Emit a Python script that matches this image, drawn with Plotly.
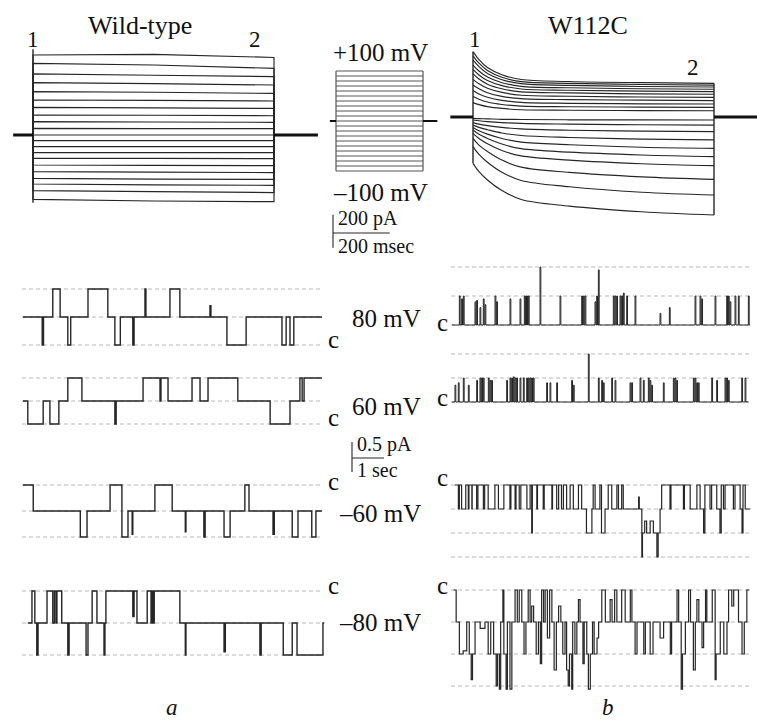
import plotly.graph_objects as go

# ---------------------------------------------------------------- data
sweep_mV = [100, 90, 80, 70, 60, 50, 40, 30, 20, 10, 0,
            -10, -20, -30, -40, -50, -60, -70, -80, -90, -100]
pulse_ms = 850
wt_hold_ms = [-70, 1005]
mut_hold_ms = [-80, 1005]

# wild-type whole-cell currents (pA) at start / middle / end of the pulse
wt_time_ms = [0, 425, 850]
wt_current_pA = [
    [485, 489, 470], [434, 424, 404], [370, 362, 354], [317, 311, 303],
    [263, 259, 252], [212, 210, 206], [167, 164, 161], [121, 120, 117],
    [81, 79, 77], [40, 39, 39], [0, 0, 0], [-34, -34, -34],
    [-70, -70, -70], [-107, -107, -107], [-142, -142, -143],
    [-182, -184, -186], [-222, -225, -228], [-263, -267, -269],
    [-297, -302, -305], [-337, -343, -349], [-390, -400, -404]]

# W112C whole-cell currents (pA)
mut_time_ms = [0, 21, 51, 102, 170, 340, 595, 850]
mut_current_pA = [
    [396, 348, 300, 256, 227, 215, 208, 204],
    [370, 326, 282, 241, 214, 204, 197, 193],
    [346, 305, 264, 226, 202, 192, 185, 182],
    [315, 279, 242, 208, 186, 177, 171, 168],
    [289, 255, 221, 190, 170, 162, 157, 154],
    [261, 230, 199, 171, 152, 146, 140, 138],
    [228, 201, 174, 149, 132, 126, 121, 119],
    [194, 171, 147, 125, 111, 105, 102, 99],
    [160, 139, 120, 101, 89, 83, 80, 79],
    [124, 108, 91, 76, 66, 62, 60, 58],
    [87, 75, 63, 52, 44, 41, 39, 38],
    [-8, -10, -11, -14, -15, -17, -17, -18],
    [-18, -23, -28, -34, -39, -43, -47, -49],
    [-34, -43, -52, -63, -72, -80, -86, -89],
    [-49, -63, -77, -97, -112, -124, -134, -139],
    [-63, -83, -104, -130, -152, -168, -183, -190],
    [-79, -105, -130, -164, -192, -213, -230, -240],
    [-99, -130, -162, -203, -236, -261, -283, -295],
    [-130, -170, -209, -261, -304, -336, -363, -378],
    [-180, -227, -274, -335, -385, -423, -456, -473],
    [-281, -331, -382, -446, -500, -540, -574, -594]]

# single-channel recordings: dwell start times (s) and number of open channels
wt80_t = [0, 0.60, 0.64, 0.93, 1.16, 1.40, 1.49, 2.03, 2.65, 2.87, 3.04, 3.43, 3.47,
          3.81, 3.84, 4.59, 4.90, 5.84, 5.87, 6.37, 6.97, 8.09, 8.22, 8.34, 8.46, 9.34]
wt80_n = [1, 0, 1, 2, 1, 0, 1, 2, 1, 0, 1, 0, 1,
          2, 1, 2, 1, 1.4, 1, 0, 1, 0, 1, 0, 1, 1]
wt60_t = [0, 0.15, 0.63, 0.84, 1.12, 1.40, 1.84, 2.87, 2.91, 3.75, 4.28, 4.31,
          4.53, 5.28, 5.53, 5.78, 6.71, 7.72, 8.34, 8.65, 8.72, 8.78, 9.34]
wt60_n = [1, 0, 1, 0, 1, 2, 1, 0, 1, 2, 1, 2,
          1, 2, 1, 2, 1, 0, 1, 2, 1, 2, 2]
wtm60_t = [0, 0.32, 1.79, 2.00, 2.72, 3.09, 3.28, 3.41, 3.43, 4.12, 4.66, 5.07, 5.09,
           5.65, 5.69, 6.28, 6.47, 6.93, 7.06, 7.81, 7.85, 8.41, 8.59, 9.02, 9.15, 9.34]
wtm60_n = [0, 1, 2, 1, 0, 2, 1, 1.9, 1, 0, 1, 1.8, 1,
           2, 1, 2, 1, 0, 1, 1.9, 1, 2, 1, 2, 1, 1]
wtm80_t = [0.15, 0.28, 0.37, 0.43, 0.47, 0.75, 0.93, 0.98, 1.03, 1.06, 1.21, 1.40, 1.44,
           1.97, 2.03, 2.16, 2.31, 2.53, 2.56, 2.59, 3.43, 3.47, 3.56, 3.88, 4.00, 4.03,
           4.06, 4.10, 4.90, 5.07, 5.09, 6.28, 6.32, 7.40, 7.44, 8.13, 8.41, 8.56, 9.37, 9.41]
wtm80_n = [1, 0, 1, 2, 1, 0, 1, 0, 1, 0, 1, 2, 1,
           2, 1, 0, 1, 2, 1, 0, 0.8, 0, 1, 0, 1, 0,
           1, 0, 1, 2, 1, 1.9, 1, 2, 1, 2, 1, 2, 1, 1]

# W112C at +80 / +60 mV: brief openings from the closed level
mut80_open_s = [0.229, 0.302, 0.354, 0.718, 0.771, 0.874, 0.978, 1.031, 1.344, 1.395,
                1.812, 2.125, 2.260, 2.301, 2.333, 2.385, 2.749, 3.374, 4.051, 4.103,
                4.155, 4.468, 4.519, 4.572, 5.040, 5.093, 5.144, 5.249, 5.300, 5.353,
                5.457, 5.717, 6.498, 6.790, 7.592, 7.748, 7.800, 8.217, 8.581, 8.634,
                8.685, 8.841, 8.945, 9.258]
mut80_open_n = [1, 0.9, 1, 0.8, 0.85, 0.6, 0.9, 0.7, 1, 0.8,
                0.9, 0.9, 1, 1, 1, 1, 2, 1, 1, 1,
                1, 0.8, 1, 1.9, 1, 1, 1, 1, 1, 1.1,
                1, 1, 0.4, 0.6, 1, 1, 0.9, 1, 1, 1,
                0.8, 1, 1, 1]
mut60_open_s = [0.093, 0.197, 0.354, 0.510, 0.771, 0.874, 0.927, 0.978, 1.135, 1.187,
                1.239, 1.708, 1.812, 1.864, 1.916, 1.968, 2.020, 2.125, 2.229, 2.333,
                2.385, 2.437, 2.489, 2.540, 2.957, 3.061, 3.270, 3.738, 3.791, 4.259,
                4.572, 4.676, 4.728, 4.989, 5.093, 5.561, 5.613, 5.874, 5.978, 6.134,
                6.185, 6.238, 6.602, 6.915, 6.966, 7.019, 7.540, 7.592, 7.644, 7.696,
                8.113, 8.268, 8.529, 8.581, 8.634, 9.050, 9.154]
mut60_open_n = [0.7, 0.8, 1, 0.7, 0.9, 1, 1, 1, 1, 0.9,
                0.9, 0.9, 1, 1, 1.05, 1, 1, 1, 1, 1,
                1, 1, 1, 1, 0.8, 0.8, 0.8, 0.9, 0.7, 2,
                1, 0.9, 0.8, 1, 0.9, 0.8, 0.8, 1, 0.9, 1,
                0.9, 0.7, 0.8, 1, 1, 0.9, 1, 1, 0.8, 0.8,
                1, 0.9, 1, 1, 0.9, 1, 1]
mut_rec_end_s = [9.31, 9.26]

# W112C at -60 / -80 mV: dwell start times (s) and open-channel level
mutm60_t = [0.09, 0.20, 0.23, 0.30, 0.43, 0.51, 0.53, 0.62, 0.63, 0.77,
            0.81, 0.98, 1.02, 1.13, 1.34, 1.45, 1.62, 1.81, 1.84, 1.97,
            2.00, 2.10, 2.15, 2.34, 2.44, 2.49, 2.51, 2.65, 2.67, 2.85,
            2.88, 3.12, 3.14, 3.27, 3.33, 3.42, 3.48, 3.58, 3.69, 3.79,
            3.95, 4.05, 4.20, 4.37, 4.41, 4.47, 4.62, 4.67, 4.78, 4.88,
            4.99, 5.15, 5.20, 5.30, 5.35, 5.83, 5.85, 5.93, 5.95, 6.02,
            6.08, 6.19, 6.29, 6.40, 6.44, 6.50, 6.55, 6.81, 6.84, 7.23,
            7.26, 7.44, 7.65, 7.75, 7.86, 7.90, 8.06, 8.11, 8.27, 8.37,
            8.41, 8.48, 8.53, 8.79, 8.84, 9.00, 9.06, 9.09, 9.16, 9.32]
mutm60_n = [0, 1, 0, 1, 0, 1, 0, 1, 0, 1,
            0, 1, 0, 1, 0, 1, 0, 1, 0, 1,
            0, 1, 0, 1, 0, 2, 0, 1, 0, 1,
            0, 1, 0, 1, 0, 1, 0, 1, 0, 1,
            0, 1, 2, 1, 0, 1, 0, 2, 1, 0,
            1, 0, 1, 0, 1, 0.5, 1, 3, 2, 1.5,
            2, 1.5, 2, 3, 2, 1, 0, 1, 0, 1,
            0, 1, 0, 1, 2, 0, 1, 0, 1, 2,
            0, 1, 0, 1, 0, 1, 2, 0, 1, 1]
mutm80_t = [0.05, 0.13, 0.23, 0.35, 0.46, 0.54, 0.60, 0.64, 0.72, 0.88,
            1.03, 1.13, 1.21, 1.30, 1.38, 1.42, 1.48, 1.52, 1.59, 1.62,
            1.69, 1.73, 1.81, 1.87, 1.97, 2.04, 2.10, 2.18, 2.25, 2.31,
            2.38, 2.44, 2.49, 2.55, 2.63, 2.70, 2.76, 2.80, 2.86, 2.91,
            2.98, 3.05, 3.12, 3.19, 3.26, 3.33, 3.40, 3.46, 3.53, 3.58,
            3.63, 3.67, 3.74, 3.77, 3.84, 3.90, 3.95, 4.00, 4.09, 4.13,
            4.21, 4.26, 4.32, 4.39, 4.44, 4.53, 4.58, 4.68, 4.79, 4.94,
            5.00, 5.08, 5.15, 5.30, 5.41, 5.57, 5.62, 5.72, 5.78, 5.99,
            6.04, 6.19, 6.28, 6.50, 6.61, 6.82, 6.86, 7.03, 7.08, 7.16,
            7.20, 7.29, 7.39, 7.45, 7.54, 7.60, 7.65, 7.71, 7.81, 7.86,
            7.92, 7.96, 8.13, 8.22, 8.25, 8.38, 8.49, 8.59, 8.64, 8.74,
            8.80, 8.95, 9.06, 9.13, 9.21, 9.29]
mutm80_n = [0, 1, 2, 1.9, 1, 2, 2.8, 2, 1, 1.2,
            1, 2, 1, 2, 3, 2, 3.1, 1, 0, 2,
            3.1, 1, 3.1, 1, 0, 1, 0, 1, 2, 1,
            0, 1, 0.5, 1, 2, 1, 2.3, 0, 1, 0,
            1.5, 0, 1, 2.5, 1, 0.5, 1, 2, 1, 2.5,
            3, 2, 3.1, 1, 2, 1, 0.3, 1, 2.3, 1,
            2, 3.1, 2, 1, 2, 1.5, 1, 0, 1, 0.3,
            1, 0, 1, 0, 1, 0, 1, 2, 1, 2,
            1, 2, 1, 1.5, 1, 2, 1, 0, 1, 3.1,
            2, 1, 0, 1, 2.5, 1, 0.3, 1, 1.8, 1,
            0, 1, 0, 2.8, 2, 1, 2, 1, 0, 0.5,
            0, 1, 2, 1, 0, 0]

# unitary current (pA) at each test potential
unit_pA = {80: 0.47, 60: 0.40, -60: -0.43, -80: -0.53}
rec_len_s = 9.34
scale_whole = (200, 200)     # pA, msec
scale_single = (0.5, 1.0)    # pA, sec

# ---------------------------------------------------------------- layout helpers
W, H = 757, 722
fig = go.Figure()
_n = [0]
INK = "#262626"
SERIF = "Liberation Serif, Times New Roman, serif"


def lin(m, p):
    (pa, va), (pb, vb) = m
    return va + (p - pa) * (vb - va) / (pb - pa)


def axes(box, xmap, ymap):
    """box = (left, top, right, bottom) in pixels; maps = ((px, value), (px, value))."""
    l, t, r, b = max(0, box[0]), max(0, box[1]), min(W, box[2]), min(H, box[3])
    _n[0] += 1
    k = "" if _n[0] == 1 else str(_n[0])
    xr = [lin(xmap, l), lin(xmap, r)]
    yr = [lin(ymap, b), lin(ymap, t)]
    fig.update_layout(**{
        "xaxis" + k: dict(domain=[l / W, r / W], range=xr, visible=False,
                          anchor="y" + k, fixedrange=True),
        "yaxis" + k: dict(domain=[1 - b / H, 1 - t / H], range=yr, visible=False,
                          anchor="x" + k, fixedrange=True),
    })
    return "x" + k, "y" + k


def line(ax, x, y, color=INK, width=1.1, dash=None, shape="linear"):
    fig.add_trace(go.Scatter(x=x, y=y, xaxis=ax[0], yaxis=ax[1], mode="lines",
                             line=dict(color=color, width=width, dash=dash, shape=shape),
                             hoverinfo="skip", showlegend=False))


def text(px, py, s, size=25, xanchor="center", italic=False):
    fig.add_annotation(x=px / W, y=1 - py / H, xref="paper", yref="paper", text=s,
                       showarrow=False, xanchor=xanchor, yanchor="middle",
                       font=dict(family=SERIF, size=size, color="#111",
                                 style="italic" if italic else "normal"))


# ---------------------------------------------------------------- whole-cell: wild type
PPX = 241 / pulse_ms          # px per ms
PPY = 33 / 200                # px per pA
ax = axes((0, 35, 330, 225), ((33, 0), (274, pulse_ms)), ((135, 0), (135 - 200 * PPY, 200)))
for I in wt_current_pA:
    line(ax, [0] + wt_time_ms + [pulse_ms], [0] + I + [0], width=1.15)
line(ax, [0, 0], [-410, 520], width=1.4)
line(ax, [wt_hold_ms[0], 0], [0, 0], color="#111", width=3)
line(ax, [pulse_ms, wt_hold_ms[1]], [0, 0], color="#111", width=3)

# scale bar (same scale as currents)
sb = axes((320, 200, 420, 260), ((333, 0), (333 + 100 * PPX, 100)), ((233, 0), (233 - 100 * PPY, 100)))
line(sb, [0, 0], [scale_whole[0] * 0.55, -scale_whole[0] * 0.45], width=1.1)
line(sb, [0, scale_whole[1]], [0, 0], width=1.1)
text(336, 218, "200 pA", size=20, xanchor="left")
text(336, 246, "200 msec", size=20, xanchor="left")

# ---------------------------------------------------------------- voltage protocol
pr = axes((322, 60, 445, 185), ((336, 0), (423, pulse_ms)), ((121, 0), (71, 100)))
for v in sweep_mV:
    line(pr, [0, pulse_ms], [v, v], color="#555", width=1)
line(pr, [0, 0], [-100, 100], color="#555", width=1.2)
line(pr, [pulse_ms, pulse_ms], [-100, 100], color="#555", width=1.2)
line(pr, [-60, 0], [0, 0], color="#111", width=2)
line(pr, [pulse_ms, pulse_ms + 140], [0, 0], color="#111", width=2)
text(380, 53, "+100 mV")
text(380, 192, "\u2013100 mV")

# ---------------------------------------------------------------- whole-cell: W112C
mx = axes((440, 35, 757, 225), ((473, 0), (473 + pulse_ms * PPX, pulse_ms)),
          ((117, 0), (117 - 200 * PPY, 200)))
for I in mut_current_pA:
    line(mx, mut_time_ms, I, width=1.15, shape="spline")
starts = [I[0] for I in mut_current_pA]
ends = [I[-1] for I in mut_current_pA]
line(mx, [0, 0], [min(starts), max(starts)], width=1.4)
line(mx, [pulse_ms, pulse_ms], [min(ends), max(ends)], width=1.4)
line(mx, [mut_hold_ms[0], 0], [0, 0], color="#111", width=3)
line(mx, [pulse_ms, mut_hold_ms[1]], [0, 0], color="#111", width=3)

text(140, 25, "Wild-type", size=26)
text(33, 39, "1", size=23)
text(255, 39, "2", size=23)
text(588, 25, "W112C", size=26)
text(475, 39, "1", size=23)
text(693, 67, "2", size=23)

# ---------------------------------------------------------------- single channels
SPX = 299 / rec_len_s


def steps(t, n, i):
    return list(t), [k * i for k in n]


def spikes(t_open, n_open, i, t_end, width=0.026):
    xs, ys = [0], [0]
    for t, n in zip(t_open, n_open):
        xs += [t, t + width]
        ys += [n * i, 0]
    xs.append(t_end)
    ys.append(0)
    return xs, ys


def panel(left_px, p0, p1, mV, levels, top, bottom):
    a = axes((left_px - 10, top, left_px + 310, bottom),
             ((left_px, 0), (left_px + rec_len_s * SPX, rec_len_s)),
             ((p0, 0), (p1, unit_pA[mV])))
    for L in levels:
        line(a, [-0.03, rec_len_s + 0.02], [L * unit_pA[mV]] * 2, color="#b8b8b8",
             width=1, dash="4px,3px")
    return a


# wild type (left)
a = panel(23, 345, 317, 80, [0, 1, 2], 275, 355)
x, y = steps(wt80_t, wt80_n, unit_pA[80]); line(a, x, y, width=1.4, shape="hv")
a = panel(23, 424, 401, 60, [0, 1, 2], 365, 432)
x, y = steps(wt60_t, wt60_n, unit_pA[60]); line(a, x, y, width=1.4, shape="hv")
a = panel(23, 485, 511, -60, [0, 1, 2], 475, 545)
x, y = steps(wtm60_t, wtm60_n, unit_pA[-60]); line(a, x, y, width=1.4, shape="hv")
a = panel(23, 591, 623, -80, [0, 1, 2], 580, 665)
x, y = steps(wtm80_t, wtm80_n, unit_pA[-80]); line(a, x, y, width=1.4, shape="hv")

# W112C (right)
a = panel(452, 325, 296, 80, [0, 1, 2], 260, 335)
x, y = spikes(mut80_open_s, mut80_open_n, unit_pA[80], mut_rec_end_s[0]); line(a, x, y, width=1.0, shape="hv")
a = panel(452, 402, 378, 60, [0, 1, 2], 345, 410)
x, y = spikes(mut60_open_s, mut60_open_n, unit_pA[60], mut_rec_end_s[1]); line(a, x, y, width=1.0, shape="hv")
a = panel(452, 485, 509, -60, [0, 1, 2, 3], 475, 572)
x, y = steps(mutm60_t, mutm60_n, unit_pA[-60]); line(a, x, y, width=1.2, shape="hv")
a = panel(452, 590, 622, -80, [0, 1, 2, 3], 580, 695)
x, y = steps(mutm80_t, mutm80_n, unit_pA[-80]); line(a, x, y, width=1.2, shape="hv")

# single-channel scale bar
SPY = 30 / scale_single[0]
sb2 = axes((340, 430, 420, 480), ((352, 0), (352 + SPX, 1)), ((458, 0), (458 - SPY, 1)))
line(sb2, [0, 0], [scale_single[0] * 0.53, -scale_single[0] * 0.47], width=1.1)
line(sb2, [0, scale_single[1]], [0, 0], width=1.1)
text(355, 444, "0.5 pA", size=20, xanchor="left")
text(355, 470, "1 sec", size=20, xanchor="left")

# voltage / closed-level labels
for py, s in [(318, "80 mV"), (407, "60 mV"), (513, "\u201360 mV"), (622, "\u201380 mV")]:
    text(423, py, s, xanchor="right")
for px, py in [(333, 339), (333, 417), (333, 481), (333, 585),
               (442, 322), (442, 398), (442, 477), (442, 585)]:
    text(px, py, "c", size=25)
text(172, 707, "a", size=23, italic=True)
text(608, 707, "b", size=23, italic=True)

fig.update_layout(width=W, height=H, margin=dict(l=0, r=0, t=0, b=0),
                  paper_bgcolor="white", plot_bgcolor="rgba(0,0,0,0)", showlegend=False)
fig.write_html("out.html", config={"displayModeBar": False},
               post_script="document.body.style.margin='0px';document.body.style.padding='0px';")
